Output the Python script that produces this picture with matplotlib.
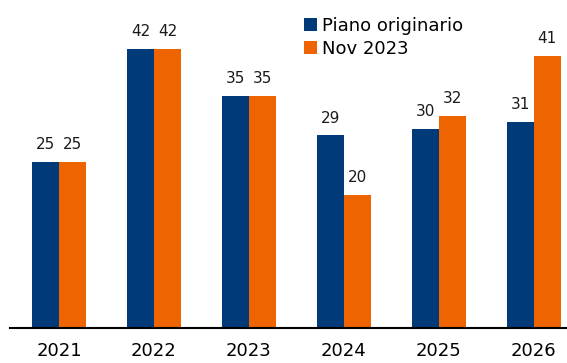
import numpy as np
import matplotlib
matplotlib.use("Agg")
import matplotlib.pyplot as plt

years = ["2021", "2022", "2023", "2024", "2025", "2026"]
piano_originario = [25, 42, 35, 29, 30, 31]
nov_2023 = [25, 42, 35, 20, 32, 41]

blue = "#003A78"
orange = "#EE6400"

fig = plt.figure(figsize=(5.67, 3.63), dpi=100)
ax = fig.add_axes([0.0176, 0.0964, 0.9824, 0.9036])

x = np.arange(len(years))
w = 0.285

# two bars per year
b1 = ax.bar(x - w / 2, piano_originario, w, color=blue, label="Piano originario")
b2 = ax.bar(x + w / 2, nov_2023, w, color=orange, label="Nov 2023")

ax.bar_label(b1, padding=7, fontsize=11, color="#1a1a1a")
ax.bar_label(b2, padding=7, fontsize=11, color="#1a1a1a")

ax.set_xlim(-0.516, 5.35)
ax.set_ylim(0, 49.4)
ax.set_xticks(x)
ax.set_xticklabels(years, fontsize=13)
ax.tick_params(axis="x", length=0, pad=10)
ax.set_yticks([])

for s in ["top", "right", "left"]:
    ax.spines[s].set_visible(False)
ax.spines["bottom"].set_linewidth(1.5)

ax.legend(loc="upper left", bbox_to_anchor=(0.515, 0.97), frameon=False,
          fontsize=13, handlelength=0.7, handleheight=0.7,
          handletextpad=0.3, labelspacing=0.25, borderaxespad=0)

fig.savefig("out.png", dpi=100)
